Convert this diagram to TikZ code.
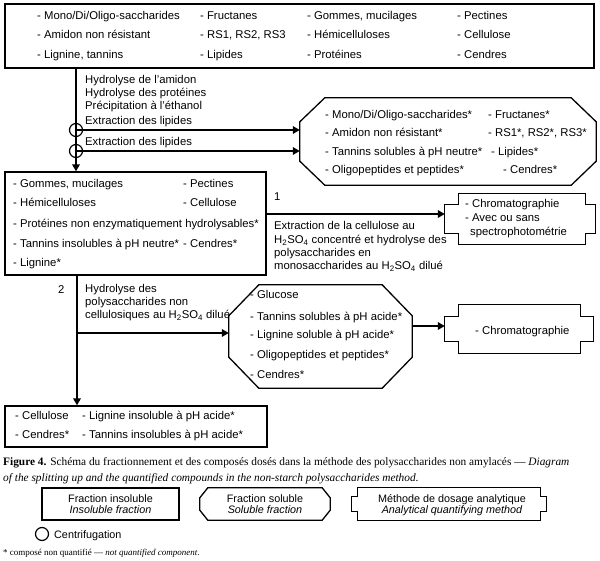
\documentclass[tikz,border=0pt]{standalone}
\usepackage{fontspec}
\setmainfont{Liberation Sans}
\newfontfamily\capfont{Liberation Serif}
\usetikzlibrary{arrows.meta}
\newcommand\octshape[3]{% node, horizontal chamfer, vertical chamfer
  \draw[outl] ([xshift=#2]#1.north west) -- ([xshift=-#2]#1.north east)
    -- ([yshift=-#3]#1.north east) -- ([yshift=#3]#1.south east)
    -- ([xshift=-#2]#1.south east) -- ([xshift=#2]#1.south west)
    -- ([yshift=#3]#1.south west) -- ([yshift=-#3]#1.north west) -- cycle;}
\newcommand\methshape[4]{% node, left tab, right tab, tab inset
  \draw[outl] ([xshift=#2]#1.north west) -- ([xshift=-#3]#1.north east)
    -- ([xshift=-#3,yshift=-#4]#1.north east) -- ([yshift=-#4]#1.north east)
    -- ([yshift=#4]#1.south east) -- ([xshift=-#3,yshift=#4]#1.south east)
    -- ([xshift=-#3]#1.south east) -- ([xshift=#2]#1.south west)
    -- ([xshift=#2,yshift=#4]#1.south west) -- ([yshift=#4]#1.south west)
    -- ([yshift=-#4]#1.north west) -- ([xshift=#2,yshift=-#4]#1.north west) -- cycle;}
\begin{document}
\begin{tikzpicture}[x=1pt,y=-1pt,
  txt/.style={anchor=west,inner sep=0pt,text height=8pt,text depth=0pt,font=\fontsize{11.3}{13}\selectfont},
  lgt/.style={anchor=center,inner sep=0pt,text height=8pt,text depth=0pt,font=\fontsize{10.8}{12}\selectfont},
  capt/.style={anchor=west,inner sep=0pt,text height=7pt,text depth=0pt,font=\capfont\fontsize{11.35}{13}\selectfont},
  outl/.style={draw,line width=1.3pt},
  boxn/.style={draw,line width=1.3pt,inner sep=0pt},
  hid/.style={inner sep=0pt},
  arr/.style={line width=2pt,-{Triangle[length=7pt,width=7.5pt]}},
  centri/.style={circle,draw,line width=1.2pt,minimum size=13pt,inner sep=0pt}]
\fill[white] (0,0) rectangle (600,561);
\path[use as bounding box] (0,0) rectangle (600,561);

% ---------- top box
\node[boxn,minimum width=589pt,minimum height=64pt] (top) at (299.5,36) {};
\node[txt] (a1) at (37,15.5) {- Mono/Di/Oligo-saccharides};
\node[txt] (a2) at (200,15.5) {- Fructanes};
\node[txt] (a3) at (307,15.5) {- Gommes, mucilages};
\node[txt] (a4) at (457,15.5) {- Pectines};
\node[txt] (a5) at (37,35) {- Amidon non résistant};
\node[txt] (a6) at (200,35) {- RS1, RS2, RS3};
\node[txt] (a7) at (307,35) {- Hémicelluloses};
\node[txt] (a8) at (457,35) {- Cellulose};
\node[txt] (a9) at (37,55) {- Lignine, tannins};
\node[txt] (a10) at (200,55) {- Lipides};
\node[txt] (a11) at (307,55) {- Protéines};
\node[txt] (a12) at (457,55) {- Cendres};

% ---------- steps
\node[txt] (s1) at (85,80) {Hydrolyse de l'amidon};
\node[txt] (s2) at (85,93) {Hydrolyse des protéines};
\node[txt] (s3) at (85,106) {Précipitation à l'éthanol};
\node[txt] (s4) at (85,121) {Extraction des lipides};
\node[txt] (s5) at (85,142) {Extraction des lipides};

% ---------- soluble fraction 1
\node[hid,minimum width=296pt,minimum height=87pt] (oct1) at (448,141.5) {};
\octshape{oct1}{25pt}{24pt}
\node[txt] (b1) at (325,115) {- Mono/Di/Oligo-saccharides*};
\node[txt] (b2) at (488,115) {- Fructanes*};
\node[txt] (b3) at (325,133) {- Amidon non résistant*};
\node[txt] (b4) at (488,133) {- RS1*, RS2*, RS3*};
\node[txt] (b5) at (325,152) {- Tannins solubles à pH neutre*};
\node[txt] (b6) at (491,152) {- Lipides*};
\node[txt] (b7) at (325,170) {- Oligopeptides et peptides*};
\node[txt] (b8) at (503,170) {- Cendres*};

% ---------- insoluble fraction (middle)
\node[boxn,minimum width=261pt,minimum height=103pt] (left) at (135.5,223.5) {};
\node[txt] (c1t) at (13,183.3) {- Gommes, mucilages};
\node[txt] (c2t) at (183,183.3) {- Pectines};
\node[txt] (c3t) at (13,202.7) {- Hémicelluloses};
\node[txt] (c4t) at (183,202.7) {- Cellulose};
\node[txt] (c5t) at (13,223.3) {- Protéines non enzymatiquement hydrolysables*};
\node[txt] (c6t) at (13,243.3) {- Tannins insolubles à pH neutre*};
\node[txt] (c7t) at (183,243.3) {- Cendres*};
\node[txt] (c8t) at (13,262.7) {- Lignine*};

% ---------- branch 1
\node[txt] (n1) at (274,197) {1};
\node[txt] (e1) at (274,226) {Extraction de la cellulose au};
\node[txt] (e2) at (274,239.5) {H\textsubscript{2}SO\textsubscript{4} concentré et hydrolyse des};
\node[txt] (e3) at (274,253) {polysaccharides en};
\node[txt] (e4) at (274,266) {monosaccharides au H\textsubscript{2}SO\textsubscript{4} dilué};

% ---------- method box 1
\node[hid,minimum width=150pt,minimum height=50pt] (m1) at (520,219) {};
\methshape{m1}{14pt}{10pt}{11pt}
\node[txt] (m1a) at (465,204) {- Chromatographie};
\node[txt] (m1b) at (465,218) {- Avec ou sans};
\node[txt] (m1c) at (470,232) {spectrophotométrie};

% ---------- branch 2
\node[txt] (n2) at (58,290) {2};
\node[txt] (h1) at (85,289) {Hydrolyse des};
\node[txt] (h2) at (85,302) {polysaccharides non};
\node[txt] (h3) at (85,315) {cellulosiques au H\textsubscript{2}SO\textsubscript{4} dilué};

% ---------- soluble fraction 2
\node[hid,minimum width=183pt,minimum height=103pt] (oct2) at (320.5,336.5) {};
\octshape{oct2}{30pt}{31pt}
\node[txt] (d1) at (250,295) {- Glucose};
\node[txt] (d2) at (250,316.7) {- Tannins solubles à pH acide*};
\node[txt] (d3) at (250,335) {- Lignine soluble à pH acide*};
\node[txt] (d4) at (250,355) {- Oligopeptides et peptides*};
\node[txt] (d5) at (250,375) {- Cendres*};

% ---------- method box 2
\node[hid,minimum width=148pt,minimum height=48pt] (m2) at (519,329) {};
\methshape{m2}{14pt}{13pt}{12pt}
\node[txt] (m2a) at (475,331) {- Chromatographie};

% ---------- bottom insoluble
\node[boxn,minimum width=262pt,minimum height=41pt] (bot) at (136,426.5) {};
\node[txt] (f1) at (15,415) {- Cellulose};
\node[txt] (f2) at (82,415) {- Lignine insoluble à pH acide*};
\node[txt] (f3) at (15,434) {- Cendres*};
\node[txt] (f4) at (82,434) {- Tannins insolubles à pH acide*};

% ---------- connectors
\coordinate (xa) at (76,0);
\coordinate (xb) at (77,0);
\coordinate (ya) at (0,214);
\coordinate (yb) at (0,326);
\coordinate (br) at (77,333);
\draw[arr] (top.south -| xa) -- (left.north -| xa);
\node[centri] (cf1) at (76,130) {};
\node[centri] (cf2) at (76,151) {};
\draw[arr] (cf1.center) -- (oct1.west |- cf1.center);
\draw[arr] (cf2.center) -- (oct1.west |- cf2.center);
\draw[arr] (left.east |- ya) -- (m1.west |- ya);
\draw[arr] (left.south -| xb) -- (bot.north -| xb);
\draw[arr] (br) -- (oct2.west |- br);
\draw[arr] (oct2.east |- yb) -- (m2.west |- yb);

% ---------- caption
\node[capt] (cap1) at (3,462)
  {\textbf{Figure 4.} Schéma du fractionnement et des composés dosés dans la méthode des polysaccharides non amylacés — \textit{Diagram}};
\node[capt] (cap2) at (3,478)
  {\textit{of the splitting up and the quantified compounds in the non-starch polysaccharides method}.};

% ---------- legend
\node[boxn,minimum width=137pt,minimum height=32pt] (lg1) at (110.5,504) {};
\node[lgt] (lg1a) at (110.5,498) {Fraction insoluble};
\node[lgt] (lg1b) at (110.5,509) {\itshape Insoluble fraction};
\node[hid,minimum width=130pt,minimum height=32pt] (lg2) at (265,504) {};
\octshape{lg2}{8pt}{10pt}
\node[lgt] (lg2a) at (265,498) {Fraction soluble};
\node[lgt] (lg2b) at (265,509) {\itshape Soluble fraction};
\node[hid,minimum width=194pt,minimum height=32pt] (lg3) at (449,504) {};
\methshape{lg3}{6pt}{6pt}{9pt}
\node[lgt] (lg3a) at (452,498) {Méthode de dosage analytique};
\node[lgt] (lg3b) at (452,509) {\itshape Analytical quantifying method};
\node[centri] (lgc) at (42,534) {};
\node[lgt,anchor=west] (lgct) at (54,534) {Centrifugation};
\node[anchor=west,inner sep=0pt,text height=6pt,text depth=0pt,font=\capfont\fontsize{9}{11}\selectfont] (fn) at (3,552)
  {* composé non quantifié — \textit{not quantified component}.};
\end{tikzpicture}
\end{document}
